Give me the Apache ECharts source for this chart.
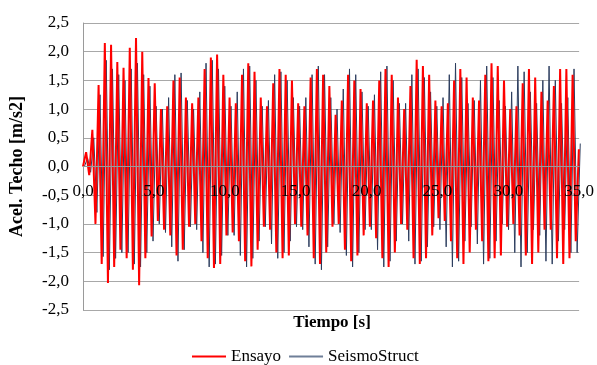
<!DOCTYPE html>
<html>
<head>
<meta charset="utf-8">
<script src="https://cdn.jsdelivr.net/npm/echarts@6/dist/echarts.min.js"></script>
<style>
  html, body { margin: 0; padding: 0; background: #fff; }
  #chart { width: 597px; height: 365px; }
</style>
</head>
<body>
<div id="chart"></div>
<script>
// sample spacing of the half-cycle readings [s]
const stepSec = 0.22
const seismoShift = 0.1

const ensayo = [
  0.0, 0.25, -0.15, 0.64, -1.0, 1.42, -1.7, 2.15, -2.03, 2.12,
  -1.75, 1.82, -1.45, 1.72, -1.6, 2.07, -1.8, 2.24, -2.07, 2.0,
  -1.6, 1.54, -1.22, 1.45, -0.95, 1.0, -1.1, 1.05, -1.2, 1.5,
  -1.55, 1.55, -1.45, 1.2, -1.05, 1.1, -1.0, 1.2, -1.3, 1.7,
  -1.6, 1.9, -1.77, 1.95, -1.7, 1.6, -1.2, 1.2, -1.15, 1.1,
  -1.3, 1.6, -1.65, 1.8, -1.74, 1.65, -1.45, 1.2, -1.05, 1.05,
  -1.1, 1.45, -1.5, 1.7, -1.6, 1.6, -1.55, 1.5, -1.0, 1.1,
  -1.05, 1.05, -1.2, 1.55, -1.6, 1.7, -1.7, 1.6, -1.5, 1.4,
  -1.05, 0.9, -1.0, 1.15, -1.45, 1.6, -1.65, 1.5, -1.55, 1.35,
  -1.2, 1.1, -1.05, 1.15, -1.25, 1.5, -1.6, 1.7, -1.75, 1.6,
  -1.5, 1.2, -1.0, 1.0, -1.1, 1.4, -1.6, 1.86, -1.7, 1.75,
  -1.6, 1.6, -1.2, 1.15, -0.9, 1.05, -0.95, 1.1, -1.3, 1.5,
  -1.6, 1.7, -1.7, 1.55, -1.5, 1.2, -1.1, 1.15, -1.3, 1.6,
  -1.65, 1.8, -1.6, 1.75, -1.55, 1.5, -1.05, 1.0, -1.0, 1.05,
  -1.2, 1.45, -1.55, 1.7, -1.7, 1.55, -1.5, 1.3, -1.1, 1.15,
  -1.1, 1.4, -1.6, 1.7, -1.7, 1.7, -1.6, 1.6, -1.3, 0.3
]

// SeismoStruct (numerical model)
const seismo = [
  0.0, 0.15, -0.1, 0.5, -0.8, 1.25, -1.57, 1.85, -1.8, 1.7,
  -1.6, 1.6, -1.5, 1.5, -1.5, 1.7, -1.7, 1.8, -1.75, 1.6,
  -1.5, 1.4, -1.3, 1.05, -1.0, 1.0, -1.15, 1.2, -1.4, 1.6,
  -1.65, 1.63, -1.45, 1.15, -1.05, 1.0, -1.1, 1.3, -1.5, 1.8,
  -1.75, 1.85, -1.7, 1.7, -1.55, 1.4, -1.2, 1.05, -1.2, 1.3,
  -1.55, 1.7, -1.75, 1.75, -1.6, 1.5, -1.3, 1.05, -1.05, 1.15,
  -1.35, 1.6, -1.6, 1.65, -1.5, 1.5, -1.3, 1.2, -1.05, 1.05,
  -1.1, 1.2, -1.4, 1.6, -1.7, 1.75, -1.8, 1.6, -1.4, 1.2,
  -1.0, 1.0, -1.15, 1.35, -1.55, 1.7, -1.75, 1.6, -1.5, 1.3,
  -1.1, 1.05, -1.1, 1.25, -1.45, 1.65, -1.75, 1.75, -1.65, 1.5,
  -1.3, 1.1, -1.0, 1.1, -1.3, 1.6, -1.7, 1.7, -1.65, 1.55,
  -1.4, 1.3, -1.05, 1.05, -1.1, 1.2, -1.4, 1.6, -1.75, 1.8,
  -1.65, 1.55, -1.3, 1.1, -1.05, 1.15, -1.35, 1.5, -1.7, 1.75,
  -1.6, 1.55, -1.3, 1.15, -1.0, 1.05, -1.1, 1.3, -1.5, 1.75,
  -1.75, 1.65, -1.5, 1.3, -1.1, 1.1, -1.2, 1.5, -1.65, 1.75,
  -1.7, 1.5, -1.3, 1.1, -1.1, 1.2, -1.5, 1.7, -1.5, 0.4
]

const seriesNames = ['Ensayo', 'SeismoStruct']
const yTitle = 'Acel. Techo [m/s2]'
const xTitle = 'Tiempo [s]'

const fmt = (v) => v.toFixed(1).replace('.', ',')
const serif = '"Liberation Serif", "DejaVu Serif", serif'

const ensayoData = ensayo.map((v, i) => [i * stepSec, v])
const seismoData = seismo.map((v, i) => [i * stepSec + seismoShift, v])

const gridTop = 23
const gridBottom = 55
const plotH = 365 - gridTop - gridBottom

const chart = echarts.init(document.getElementById('chart'))

let option = {
  animation: false,
  grid: {
    left: 83,
    right: 15,
    top: gridTop,
    bottom: gridBottom
  },
  legend: {
    top: 343,
    left: 187,
    itemWidth: 34,
    itemHeight: 2,
    itemGap: 8,
    textStyle: {
      fontFamily: serif,
      fontSize: 17,
      color: '#000'
    },
    data: [
      { name: seriesNames[0], icon: 'rect' },
      { name: seriesNames[1], icon: 'rect', itemStyle: { color: '#6f7f98' } }
    ]
  },
  xAxis: {
    type: 'value',
    min: 0,
    max: 35,
    interval: 5,
    // axis sits on the zero line, labels drawn over the traces
    offset: -plotH / 2,
    z: 10,
    axisLine: {
      show: true,
      onZero: false,
      lineStyle: { color: '#9a9a9a', width: 1 }
    },
    axisTick: { show: false },
    splitLine: { show: false },
    axisLabel: {
      margin: 17,
      formatter: fmt,
      fontFamily: serif,
      fontSize: 17,
      color: '#000'
    }
  },
  yAxis: {
    type: 'value',
    min: -2.5,
    max: 2.5,
    interval: 0.5,
    name: yTitle,
    nameLocation: 'middle',
    nameGap: 57,
    nameTextStyle: {
      fontFamily: serif,
      fontSize: 18,
      fontWeight: 'bold',
      color: '#000'
    },
    axisLine: {
      show: true,
      onZero: false,
      lineStyle: { color: '#9a9a9a', width: 1 }
    },
    axisTick: { show: false },
    splitLine: {
      show: true,
      lineStyle: { color: '#a8a8a8', width: 1 }
    },
    axisLabel: {
      margin: 14,
      formatter: fmt,
      fontFamily: serif,
      fontSize: 17,
      color: '#000'
    }
  },
  graphic: [
    {
      type: 'text',
      x: 332,
      y: 314,
      style: {
        text: xTitle,
        font: 'bold 17px ' + serif,
        fill: '#000',
        textAlign: 'center'
      }
    }
  ],
  series: [
    {
      name: seriesNames[1],
      type: 'line',
      symbol: 'none',
      color: '#2c3d5e',
      lineStyle: { width: 1 },
      data: seismoData
    },
    {
      name: seriesNames[0],
      type: 'line',
      symbol: 'none',
      color: '#ff0000',
      lineStyle: { width: 2 },
      data: ensayoData
    }
  ]
}

chart.setOption(option)
</script>
</body>
</html>
